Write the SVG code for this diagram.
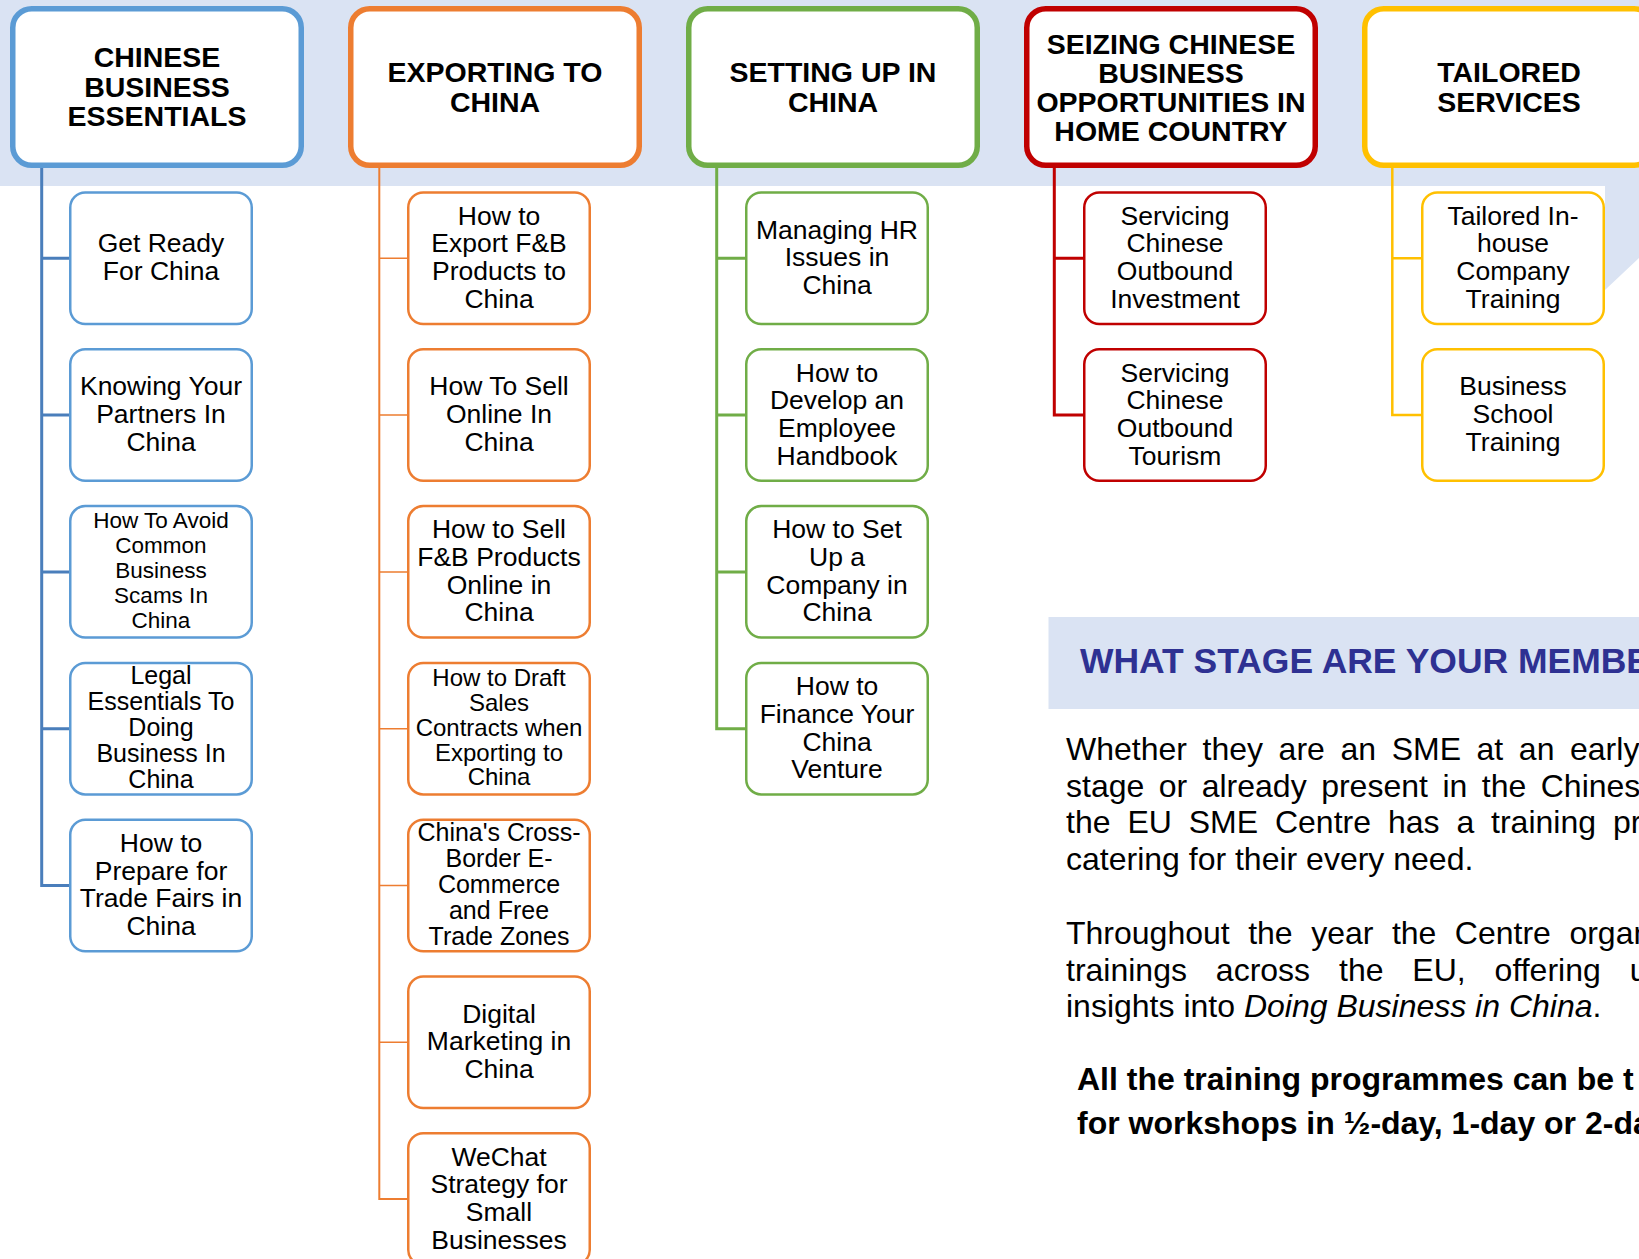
<svg xmlns="http://www.w3.org/2000/svg" width="1639" height="1259" viewBox="0 0 1639 1259">
<style>
.hd{fill:#fff;stroke-width:5.5}
.bx{fill:#fff;stroke-width:2.5}
.ht{font-family:"Liberation Sans",Arial,sans-serif;font-weight:bold;font-size:28.5px;text-anchor:middle;fill:#000}
.ct{font-family:"Liberation Sans",Arial,sans-serif;font-size:26.5px;text-anchor:middle;fill:#000}
.p{font-family:"Liberation Sans",Arial,sans-serif;font-size:32px;fill:#000}
.pb{font-family:"Liberation Sans",Arial,sans-serif;font-size:32px;font-weight:bold;fill:#000}
.cb{stroke:#5B9BD5}.co{stroke:#ED7D31}.cg{stroke:#70AD47}.cr{stroke:#C00000}.cy{stroke:#FFC000}
.ln{fill:none}
</style>
<rect width="1639" height="1259" fill="#fff"/>
<polygon points="0,0 1639,0 1639,258 1605,290 1605,186 0,186" fill="#DAE3F3"/>

<g id="connectors" class="ln">
<path stroke="#4A7EBB" stroke-width="3" fill="none" d="M41.7,168 V885.5 H69 M41.7,258.3 H69 M41.7,415.1 H69 M41.7,571.9 H69 M41.7,728.7 H69"/>
<path stroke="#ED7D31" stroke-width="2" fill="none" d="M379.3,168 V1199.1 H407"/>
<path stroke="#ED7D31" stroke-width="1.5" fill="none" d="M379.3,258.3 H407 M379.3,415.1 H407 M379.3,571.9 H407 M379.3,728.7 H407 M379.3,885.5 H407 M379.3,1042.3 H407"/>
<path stroke="#70AD47" stroke-width="3" fill="none" d="M716.7,168 V728.7 H745 M716.7,258.3 H745 M716.7,415.1 H745 M716.7,571.9 H745"/>
<path stroke="#C00000" stroke-width="3" fill="none" d="M1054.3,168 V415.1 H1083 M1054.3,258.3 H1083"/>
<path stroke="#FFC000" stroke-width="2.5" fill="none" d="M1392.3,168 V415.1 H1421 M1392.3,258.3 H1421"/>
</g>

<g id="h1"><rect class="hd cb" x="12.75" y="8.75" width="288.5" height="156.5" rx="19"/>
<text class="ht"><tspan x="157" y="67.2">CHINESE</tspan><tspan x="157" y="96.7">BUSINESS</tspan><tspan x="157" y="126.2">ESSENTIALS</tspan></text></g>
<g id="h2"><rect class="hd co" x="350.75" y="8.75" width="288.5" height="156.5" rx="19"/>
<text class="ht"><tspan x="495" y="82.2">EXPORTING TO</tspan><tspan x="495" y="112">CHINA</tspan></text></g>
<g id="h3"><rect class="hd cg" x="688.75" y="8.75" width="288.5" height="156.5" rx="19"/>
<text class="ht"><tspan x="833" y="82.2">SETTING UP IN</tspan><tspan x="833" y="112">CHINA</tspan></text></g>
<g id="h4"><rect class="hd cr" x="1026.75" y="8.75" width="288.5" height="156.5" rx="19"/>
<text class="ht"><tspan x="1171" y="53.7">SEIZING CHINESE</tspan><tspan x="1171" y="82.7">BUSINESS</tspan><tspan x="1171" y="111.7">OPPORTUNITIES IN</tspan><tspan x="1171" y="140.7">HOME COUNTRY</tspan></text></g>
<g id="h5"><rect class="hd cy" x="1364.75" y="8.75" width="288.5" height="156.5" rx="19"/>
<text class="ht"><tspan x="1509" y="82.2">TAILORED</tspan><tspan x="1509" y="112">SERVICES</tspan></text></g>

<g id="c1b1"><rect class="bx cb" x="70.25" y="192.5" width="181.5" height="131.5" rx="15"/>
<text class="ct"><tspan x="161" y="252.45">Get Ready</tspan><tspan x="161" y="280.15">For China</tspan></text></g>
<g id="c1b2"><rect class="bx cb" x="70.25" y="349.3" width="181.5" height="131.5" rx="15"/>
<text class="ct"><tspan x="161" y="395.4">Knowing Your</tspan><tspan x="161" y="423.1">Partners In</tspan><tspan x="161" y="450.8">China</tspan></text></g>
<g id="c1b3"><rect class="bx cb" x="70.25" y="506.1" width="181.5" height="131.5" rx="15"/>
<text class="ct" style="font-size:22.5px"><tspan x="161" y="528.45">How To Avoid</tspan><tspan x="161" y="553.45">Common</tspan><tspan x="161" y="578.45">Business</tspan><tspan x="161" y="603.45">Scams In</tspan><tspan x="161" y="628.45">China</tspan></text></g>
<g id="c1b4"><rect class="bx cb" x="70.25" y="662.9" width="181.5" height="131.5" rx="15"/>
<text class="ct" style="font-size:25px"><tspan x="161" y="684.35">Legal</tspan><tspan x="161" y="710.25">Essentials To</tspan><tspan x="161" y="736.15">Doing</tspan><tspan x="161" y="762.05">Business In</tspan><tspan x="161" y="787.95">China</tspan></text></g>
<g id="c1b5"><rect class="bx cb" x="70.25" y="819.7" width="181.5" height="131.5" rx="15"/>
<text class="ct"><tspan x="161" y="851.95">How to</tspan><tspan x="161" y="879.65">Prepare for</tspan><tspan x="161" y="907.35">Trade Fairs in</tspan><tspan x="161" y="935.05">China</tspan></text></g>

<g id="c2b1"><rect class="bx co" x="408.25" y="192.5" width="181.5" height="131.5" rx="15"/>
<text class="ct"><tspan x="499" y="224.75">How to</tspan><tspan x="499" y="252.45">Export F&amp;B</tspan><tspan x="499" y="280.15">Products to</tspan><tspan x="499" y="307.85">China</tspan></text></g>
<g id="c2b2"><rect class="bx co" x="408.25" y="349.3" width="181.5" height="131.5" rx="15"/>
<text class="ct"><tspan x="499" y="395.4">How To Sell</tspan><tspan x="499" y="423.1">Online In</tspan><tspan x="499" y="450.8">China</tspan></text></g>
<g id="c2b3"><rect class="bx co" x="408.25" y="506.1" width="181.5" height="131.5" rx="15"/>
<text class="ct"><tspan x="499" y="538.35">How to Sell</tspan><tspan x="499" y="566.05">F&amp;B Products</tspan><tspan x="499" y="593.75">Online in</tspan><tspan x="499" y="621.45">China</tspan></text></g>
<g id="c2b4"><rect class="bx co" x="408.25" y="662.9" width="181.5" height="131.5" rx="15"/>
<text class="ct" style="font-size:24px"><tspan x="499" y="686.19">How to Draft</tspan><tspan x="499" y="710.99">Sales</tspan><tspan x="499" y="735.79">Contracts when</tspan><tspan x="499" y="760.59">Exporting to</tspan><tspan x="499" y="785.39">China</tspan></text></g>
<g id="c2b5"><rect class="bx co" x="408.25" y="819.7" width="181.5" height="131.5" rx="15"/>
<text class="ct" style="font-size:25px"><tspan x="499" y="840.75">China's Cross-</tspan><tspan x="499" y="866.85">Border E-</tspan><tspan x="499" y="892.95">Commerce</tspan><tspan x="499" y="919.05">and Free</tspan><tspan x="499" y="945.15">Trade Zones</tspan></text></g>
<g id="c2b6"><rect class="bx co" x="408.25" y="976.5" width="181.5" height="131.5" rx="15"/>
<text class="ct"><tspan x="499" y="1022.6">Digital</tspan><tspan x="499" y="1050.3">Marketing in</tspan><tspan x="499" y="1078">China</tspan></text></g>
<g id="c2b7"><rect class="bx co" x="408.25" y="1133.3" width="181.5" height="131.5" rx="15"/>
<text class="ct"><tspan x="499" y="1165.55">WeChat</tspan><tspan x="499" y="1193.25">Strategy for</tspan><tspan x="499" y="1220.95">Small</tspan><tspan x="499" y="1248.65">Businesses</tspan></text></g>

<g id="c3b1"><rect class="bx cg" x="746.25" y="192.5" width="181.5" height="131.5" rx="15"/>
<text class="ct"><tspan x="837" y="238.6">Managing HR</tspan><tspan x="837" y="266.3">Issues in</tspan><tspan x="837" y="294">China</tspan></text></g>
<g id="c3b2"><rect class="bx cg" x="746.25" y="349.3" width="181.5" height="131.5" rx="15"/>
<text class="ct"><tspan x="837" y="381.55">How to</tspan><tspan x="837" y="409.25">Develop an</tspan><tspan x="837" y="436.95">Employee</tspan><tspan x="837" y="464.65">Handbook</tspan></text></g>
<g id="c3b3"><rect class="bx cg" x="746.25" y="506.1" width="181.5" height="131.5" rx="15"/>
<text class="ct"><tspan x="837" y="538.35">How to Set</tspan><tspan x="837" y="566.05">Up a</tspan><tspan x="837" y="593.75">Company in</tspan><tspan x="837" y="621.45">China</tspan></text></g>
<g id="c3b4"><rect class="bx cg" x="746.25" y="662.9" width="181.5" height="131.5" rx="15"/>
<text class="ct"><tspan x="837" y="695.15">How to</tspan><tspan x="837" y="722.85">Finance Your</tspan><tspan x="837" y="750.55">China</tspan><tspan x="837" y="778.25">Venture</tspan></text></g>

<g id="c4b1"><rect class="bx cr" x="1084.25" y="192.5" width="181.5" height="131.5" rx="15"/>
<text class="ct"><tspan x="1175" y="224.75">Servicing</tspan><tspan x="1175" y="252.45">Chinese</tspan><tspan x="1175" y="280.15">Outbound</tspan><tspan x="1175" y="307.85">Investment</tspan></text></g>
<g id="c4b2"><rect class="bx cr" x="1084.25" y="349.3" width="181.5" height="131.5" rx="15"/>
<text class="ct"><tspan x="1175" y="381.55">Servicing</tspan><tspan x="1175" y="409.25">Chinese</tspan><tspan x="1175" y="436.95">Outbound</tspan><tspan x="1175" y="464.65">Tourism</tspan></text></g>

<g id="c5b1"><rect class="bx cy" x="1422.25" y="192.5" width="181.5" height="131.5" rx="15"/>
<text class="ct"><tspan x="1513" y="224.75">Tailored In-</tspan><tspan x="1513" y="252.45">house</tspan><tspan x="1513" y="280.15">Company</tspan><tspan x="1513" y="307.85">Training</tspan></text></g>
<g id="c5b2"><rect class="bx cy" x="1422.25" y="349.3" width="181.5" height="131.5" rx="15"/>
<text class="ct"><tspan x="1513" y="395.4">Business</tspan><tspan x="1513" y="423.1">School</tspan><tspan x="1513" y="450.8">Training</tspan></text></g>

<g id="info">
<rect x="1048.5" y="617" width="600" height="92" fill="#DAE3F3"/>
<text x="1080" y="672.8" textLength="570" lengthAdjust="spacingAndGlyphs" style="font-family:'Liberation Sans',Arial,sans-serif;font-weight:bold;font-size:34.5px;fill:#2E3192">WHAT STAGE ARE YOUR MEMBE</text>
<text class="p" x="1066" y="760" word-spacing="6.7">Whether they are an SME at an early</text>
<text class="p" x="1066" y="796.5" word-spacing="5.6">stage or already present in the Chines</text>
<text class="p" x="1066" y="833" word-spacing="8">the EU SME Centre has a training pr</text>
<text class="p" x="1066" y="869.7">catering for their every need.</text>
<text class="p" x="1066" y="944" word-spacing="9.6">Throughout the year the Centre organ</text>
<text class="p" x="1066" y="980.5" word-spacing="20">trainings across the EU, offering u</text>
<text class="p" x="1066" y="1017">insights into <tspan font-style="italic">Doing Business in China</tspan>.</text>
<text class="pb" x="1077" y="1090">All the training programmes can be t</text>
<text class="pb" x="1077" y="1134">for workshops in ½-day, 1-day or 2-da</text>
</g>
</svg>
